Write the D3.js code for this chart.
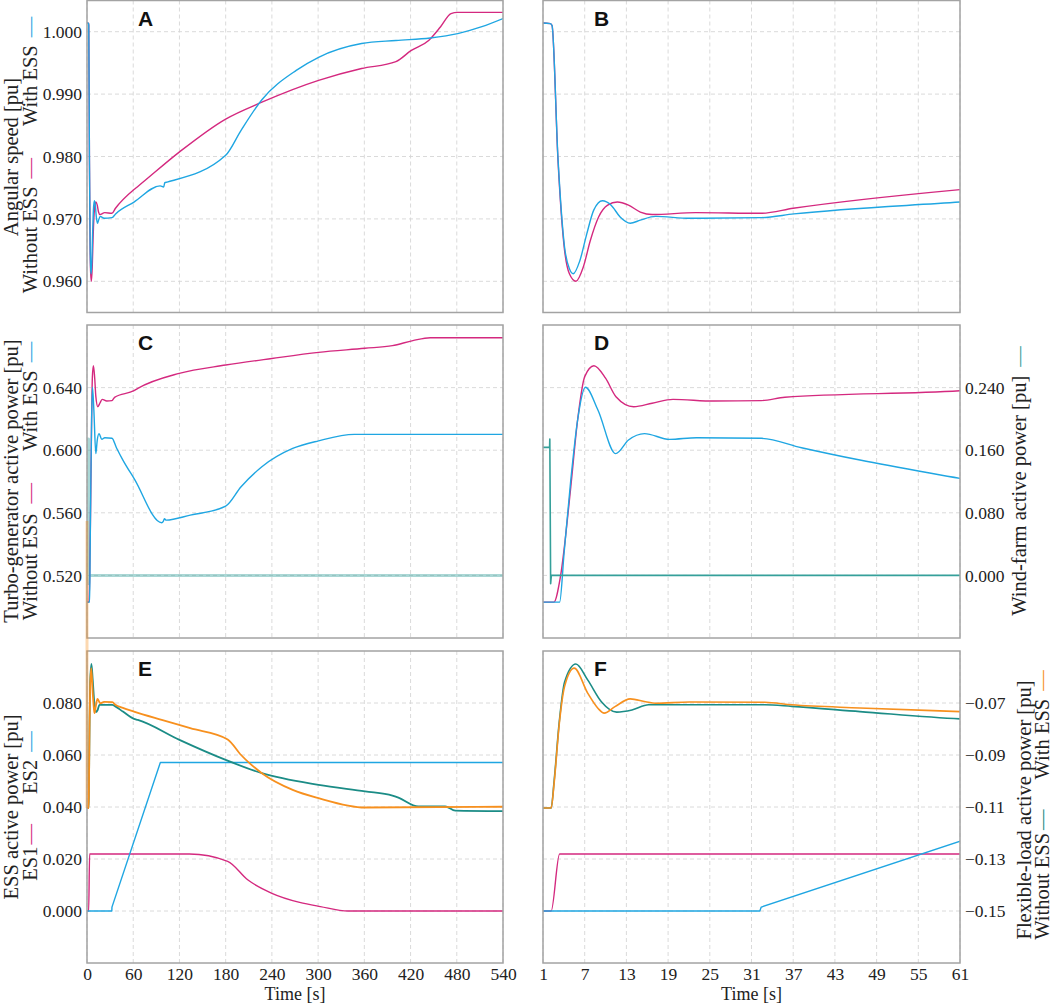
<!DOCTYPE html>
<html><head><meta charset="utf-8">
<script src="https://cdn.jsdelivr.net/npm/d3@7"></script>
<style>html,body{margin:0;padding:0;background:#fff;}svg{display:block;}</style>
</head><body>
<svg id="chart" width="1052" height="1005"></svg>
<script>
// ---------------- DATA (time [s], value) ----------------
const speedWithESS = [[0,1.0014],[1,1.0014],[2.07,1.0013],[2.3,1.0010],[3.15,0.9799],[4.1,0.9655],[4.8,0.9620],[5.35,0.9612],[6.3,0.9633],[7.3,0.9676],[8.3,0.9714],[9.55,0.9729],[10.8,0.9722],[12.1,0.9703],[13.55,0.9693],[15,0.9698],[17.2,0.9704],[22.1,0.9701],[32.4,0.9702],[37.1,0.9708],[61,0.9727],[95,0.9753],[99.5,0.9751],[101,0.9758],[104,0.9759],[180,0.9802],[200,0.9842],[227,0.9891],[271.6,0.9938],[300.6,0.9959],[356.4,0.9981],[401,0.9986],[445.6,0.9990],[481.3,0.9997],[512.6,1.0008],[540,1.0021]];
const speedWithoutESS = [[0,1.0014],[1,1.0014],[2.07,1.0013],[2.3,1.0010],[3.15,0.9795],[4.1,0.9650],[4.8,0.9612],[5.74,0.9600],[6.8,0.9623],[7.8,0.9665],[9.0,0.9703],[10.3,0.9722],[11.7,0.9727],[13.3,0.9722],[15,0.9711],[16.7,0.9707],[23,0.9710],[32.4,0.9709],[37,0.9717],[61,0.9747],[66,0.9752],[119.7,0.9807],[180,0.9860],[227,0.9887],[300.6,0.9922],[356.4,0.9941],[401,0.9952],[421,0.9970],[443.5,0.9986],[459,1.0008],[472.5,1.0029],[481,1.0031],[540,1.0031]];
const turboWithESS = [[0,0.5029],[3.39,0.5029],[4.03,0.5340],[5.0,0.5810],[5.98,0.6193],[7.1,0.6402],[8.9,0.6257],[11.45,0.5978],[13.3,0.6065],[15.6,0.6106],[19.2,0.6069],[23.1,0.6080],[32.4,0.6076],[38.2,0.6016],[46.6,0.5937],[61,0.5820],[97,0.5536],[99,0.5545],[100.5,0.5562],[102.8,0.5553],[134,0.5585],[180,0.5642],[200,0.5766],[227,0.5894],[267,0.6011],[300.6,0.6060],[347,0.6101],[540,0.6101]];
const turboWithoutESS = [[0,0.5029],[2.56,0.5029],[3.5,0.5190],[5.0,0.5766],[5.98,0.6193],[7.0,0.6470],[8.33,0.6540],[10,0.6460],[11.5,0.6342],[14.05,0.6278],[16.7,0.6300],[19.7,0.6325],[25.6,0.6314],[32.4,0.6317],[35.8,0.6338],[61,0.6380],[66,0.6395],[119.7,0.6491],[180,0.6544],[240,0.6586],[300.6,0.6625],[360.8,0.6651],[396.5,0.6668],[423,0.6700],[445.6,0.6719],[540,0.6719]];
const windFarm = [[0,0.1636],[1.95,0.1636],[1.98,0.1742],[2.1,-0.0106],[2.2,0.0],[540,0.0]];
const es1Power = [[0,0],[2.17,0],[3.39,0.0219],[133,0.0219],[182.6,0.0191],[209,0.0119],[240,0.0068],[276,0.0033],[303,0.0017],[339,0],[540,0]];
const es2Power = [[0,0],[32.2,0],[32.4,0.0015],[95.2,0.0571],[540,0.0571]];
const flexWithESS = [[0,-0.1104],[2.17,-0.1104],[2.6,-0.1008],[3.35,-0.0778],[4.1,-0.0637],[5.49,-0.0566],[7.45,-0.0663],[8.9,-0.0720],[9.8,-0.0739],[11.36,-0.0714],[13.55,-0.0684],[15.75,-0.0695],[17.2,-0.0701],[22.1,-0.0696],[32.9,-0.0697],[36.8,-0.0707],[46.6,-0.0719],[61,-0.0733],[97,-0.0765],[134,-0.0797],[182.6,-0.0840],[200,-0.0900],[227,-0.0970],[267,-0.1034],[300.6,-0.1066],[361,-0.1102],[540,-0.1099]];
const flexWithoutESS = [[0,-0.1104],[2.17,-0.1104],[2.6,-0.1000],[3.35,-0.0770],[4.1,-0.0620],[5.73,-0.0550],[7.45,-0.0612],[9.4,-0.0695],[11.6,-0.0735],[13.8,-0.0727],[16.2,-0.0707],[22.1,-0.0707],[32.9,-0.0707],[36.8,-0.0713],[46.6,-0.0733],[61,-0.0761],[66,-0.0765],[120,-0.0842],[180,-0.0919],[227,-0.0970],[300.6,-0.1015],[361,-0.1040],[396.5,-0.1056],[405,-0.1065],[430,-0.1098],[465,-0.1098],[478,-0.1114],[540,-0.1116]];
const flexStart = [[0,0.0],[0,-0.1104]];

const timeTicksLong = [0,60,120,180,240,300,360,420,480,540];
const timeTicksShort = [1,7,13,19,25,31,37,43,49,55,61];
const speedTicks = [0.96,0.97,0.98,0.99,1.00];
const turboTicks = [0.52,0.56,0.60,0.64];
const windTicks = [0.00,0.08,0.16,0.24];
const essTicks = [0.00,0.02,0.04,0.06,0.08];
const flexTicks = [-0.15,-0.13,-0.11,-0.09,-0.07];

// ---------------- STYLE ----------------
const C_BLUE = "#1fa6e2", C_MAG = "#d4297f", C_ORANGE = "#f7901e", C_TEAL = "#1b8c86", C_WIND = "#35a09a";
const SERIF = "Liberation Serif, Times New Roman, serif";

const svg = d3.select("#chart");
svg.append("rect").attr("width",1052).attr("height",1005).attr("fill","#fff");

const colX = {L:[87,503], R:[543,960]};
const rowY = [[0.5,312.5],[325,638],[651,963]];

const xLong = d3.scaleLinear().domain([0,540]).range(colX.L);
const xShort = d3.scaleLinear().domain([1,61]).range(colX.R);
const ySpeed = d3.scaleLinear().domain([0.955,1.005]).range([rowY[0][1],rowY[0][0]]);
const yTurbo = d3.scaleLinear().domain([0.48,0.68]).range([rowY[1][1],rowY[1][0]]);
const yWind = d3.scaleLinear().domain([-0.08,0.32]).range([rowY[1][1],rowY[1][0]]);
const yESS = d3.scaleLinear().domain([-0.02,0.10]).range([rowY[2][1],rowY[2][0]]);
const yFlex = d3.scaleLinear().domain([-0.17,-0.05]).range([rowY[2][1],rowY[2][0]]);

const defs = svg.append("defs");
let clipId = 0;
function panel(x, yRange, yScale, yTicks, letter){
  const [x0,x1] = x.range(); const [y0,y1] = yRange;
  const g = svg.append("g");
  const id = "clip"+(clipId++);
  defs.append("clipPath").attr("id",id).append("rect").attr("x",x0).attr("y",y0).attr("width",x1-x0).attr("height",y1-y0);
  const grid = g.append("g").attr("stroke","#d6d6d6").attr("stroke-width",0.9).attr("stroke-dasharray","4,3");
  grid.selectAll("line.v").data(x===xLong?timeTicksLong:timeTicksShort).join("line").attr("class","v")
    .attr("x1",d=>x(d)).attr("x2",d=>x(d)).attr("y1",y0).attr("y2",y1);
  grid.selectAll("line.h").data(yTicks).join("line").attr("class","h")
    .attr("x1",x0).attr("x2",x1).attr("y1",d=>yScale(d)).attr("y2",d=>yScale(d));
  const plot = g.append("g").attr("clip-path","url(#"+id+")");
  g.append("rect").attr("x",x0).attr("y",y0).attr("width",x1-x0).attr("height",y1-y0)
    .attr("fill","none").attr("stroke","#a3a3a3").attr("stroke-width",1.5);
  g.append("text").attr("x",x0+51).attr("y",y0+25).attr("font-family","Liberation Sans, Arial, sans-serif")
    .attr("font-weight","bold").attr("font-size",21).attr("fill","#111").text(letter);
  return {g, plot};
}
function drawLine(layer, data, x, y, color, w, opts={}){
  const line = d3.line().x(d=>x(d[0])).y(d=>y(d[1])).curve(opts.linear?d3.curveLinear:d3.curveMonotoneX);
  layer.append("path").datum(data).attr("d",line).attr("fill","none").attr("stroke",color)
    .attr("stroke-width",w).attr("stroke-linejoin","round").attr("stroke-opacity",opts.opacity||1);
}
function styleAxis(a){
  a.select(".domain").remove();
  a.attr("font-family",SERIF).attr("font-size",17.5);
  a.selectAll("text").attr("font-family",SERIF).attr("font-size",17.5).attr("fill","#222");
}
function leftAxis(yScale, ticks, fmt){
  styleAxis(svg.append("g").attr("transform","translate(87,0)")
    .call(d3.axisLeft(yScale).tickValues(ticks).tickFormat(d3.format(fmt)).tickSize(0).tickPadding(5)));
}
function rightAxis(yScale, ticks, fmt){
  styleAxis(svg.append("g").attr("transform","translate(960,0)")
    .call(d3.axisRight(yScale).tickValues(ticks).tickFormat(d3.format(fmt)).tickSize(0).tickPadding(5)));
}
function bottomAxis(x, ticks){
  styleAxis(svg.append("g").attr("transform","translate(0,963)")
    .call(d3.axisBottom(x).tickValues(ticks).tickFormat(d3.format("d")).tickSize(0).tickPadding(5)));
}
function vLabel(x, cy, segs, size){
  const t = svg.append("text").attr("transform",`translate(${x},${cy}) rotate(-90)`)
    .attr("text-anchor","middle").attr("font-family",SERIF).attr("font-size",size||20.5).attr("fill","#222");
  segs.forEach(s=>{ const ts=t.append("tspan").text(s.t); if(s.dx) ts.attr("dx",s.dx); if(s.c) ts.attr("fill",s.c); });
}

// ---------------- PANELS ----------------
const pA = panel(xLong, rowY[0], ySpeed, speedTicks, "A");
drawLine(pA.plot, speedWithoutESS, xLong, ySpeed, C_MAG, 1.4);
drawLine(pA.plot, speedWithESS, xLong, ySpeed, C_BLUE, 1.4);

const pB = panel(xShort, rowY[0], ySpeed, speedTicks, "B");
drawLine(pB.plot, speedWithoutESS, xShort, ySpeed, C_MAG, 1.4);
drawLine(pB.plot, speedWithESS, xShort, ySpeed, C_BLUE, 1.4);

const pC = panel(xLong, rowY[1], yTurbo, turboTicks, "C");
drawLine(pC.plot, windFarm, xLong, yWind, C_WIND, 3, {opacity:0.42, linear:true});
drawLine(pC.plot, turboWithoutESS, xLong, yTurbo, C_MAG, 1.4);
drawLine(pC.plot, turboWithESS, xLong, yTurbo, C_BLUE, 1.4);

const pD = panel(xShort, rowY[1], yTurbo, turboTicks, "D");
drawLine(pD.plot, turboWithoutESS, xShort, yTurbo, C_MAG, 1.4);
drawLine(pD.plot, turboWithESS, xShort, yTurbo, C_BLUE, 1.4);
drawLine(pD.plot, windFarm, xShort, yWind, C_WIND, 1.6, {linear:true});

const pE = panel(xLong, rowY[2], yESS, essTicks, "E");
drawLine(pE.plot, es1Power, xLong, yESS, C_MAG, 1.4);
drawLine(pE.plot, es2Power, xLong, yESS, C_BLUE, 1.4, {linear:true});
drawLine(pE.plot, flexWithoutESS, xLong, yFlex, C_TEAL, 1.8);
drawLine(pE.plot, flexWithESS, xLong, yFlex, C_ORANGE, 1.8);
drawLine(svg, flexStart, xLong, yFlex, C_ORANGE, 3, {linear:true, opacity:0.35});

const pF = panel(xShort, rowY[2], yESS, essTicks, "F");
drawLine(pF.plot, es1Power, xShort, yESS, C_MAG, 1.4);
drawLine(pF.plot, es2Power, xShort, yESS, C_BLUE, 1.4, {linear:true});
drawLine(pF.plot, flexWithoutESS, xShort, yFlex, C_TEAL, 1.6);
drawLine(pF.plot, flexWithESS, xShort, yFlex, C_ORANGE, 1.6);

// ---------------- AXES ----------------
leftAxis(ySpeed, speedTicks, ".3f");
leftAxis(yTurbo, turboTicks, ".3f");
leftAxis(yESS, essTicks, ".3f");
rightAxis(yWind, windTicks, ".3f");
rightAxis(yFlex, flexTicks, ".2f");
bottomAxis(xLong, timeTicksLong);
bottomAxis(xShort, timeTicksShort);

svg.append("text").attr("x",(colX.L[0]+colX.L[1])/2).attr("y",1000).attr("text-anchor","middle")
  .attr("font-family",SERIF).attr("font-size",18).attr("fill","#222").text("Time [s]");
svg.append("text").attr("x",(colX.R[0]+colX.R[1])/2).attr("y",1000).attr("text-anchor","middle")
  .attr("font-family",SERIF).attr("font-size",18).attr("fill","#222").text("Time [s]");

// ---------------- AXIS TITLES ----------------
vLabel(17.5, 157, [{t:"Angular speed [pu]"}]);
vLabel(37, 155, [{t:"Without ESS"},{t:"—",dx:8,c:C_MAG},{t:"With ESS",dx:32},{t:"—",dx:8,c:C_BLUE}]);
vLabel(17.5, 481, [{t:"Turbo-generator active power [pu]"}]);
vLabel(37, 481, [{t:"Without ESS"},{t:"—",dx:10,c:C_MAG},{t:"With ESS",dx:32},{t:"—",dx:8,c:C_BLUE}]);
vLabel(17.5, 807, [{t:"ESS active power [pu]"}]);
vLabel(37, 806, [{t:"ES1"},{t:"—",dx:2,c:C_MAG},{t:"ES2",dx:30},{t:"—",dx:8,c:C_BLUE}]);
vLabel(1026, 481, [{t:"Wind-farm active power [pu]"},{t:"—",dx:9,c:C_WIND}]);
vLabel(1031, 810, [{t:"Flexible-load active power [pu]"}]);
vLabel(1049, 805, [{t:"Without ESS"},{t:"—",dx:3,c:C_TEAL},{t:"With ESS",dx:30},{t:"—",dx:8,c:C_ORANGE}]);
</script>
</body></html>
